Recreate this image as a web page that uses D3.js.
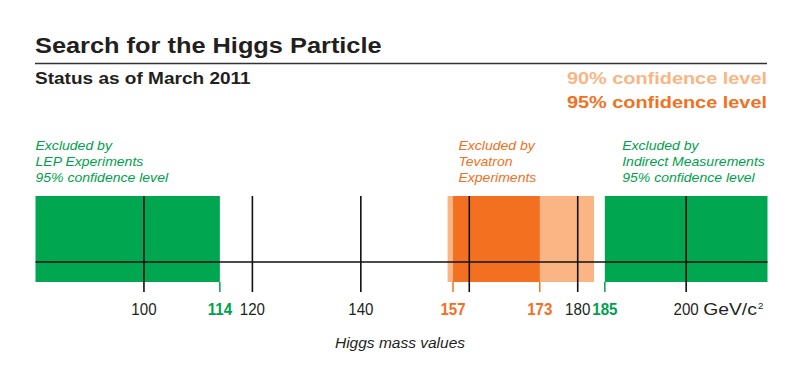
<!DOCTYPE html>
<html>
<head>
<meta charset="utf-8">
<script src="https://cdn.jsdelivr.net/npm/d3@7"></script>
<style>
  html, body { margin: 0; padding: 0; background: #fff; }
  svg { display: block; font-family: "Liberation Sans", Arial, Helvetica, sans-serif; }
</style>
</head>
<body>
<svg id="chart" width="800" height="373"></svg>
<script>
// ---- Data ----
const massDomain = [80, 215];
const gridValues = [100, 120, 140, 160, 180, 200];
const blackLabels = [100, 120, 140, 180, 200];
const unitValue = 200;
const unitText = "GeV/c";
const bandNames = ["LEP", "Tevatron90", "Tevatron95", "Indirect"];
const bandStart = [80, 156, 157, 185];
const bandEnd = [114, 183, 173, 215];
const boundaryValues = [114, 157, 173, 185];
const boundaryKinds = ["green", "orange", "orange", "green"];
const annotationX = [80, 158, 188.2];
const annotationLines = [
  ["Excluded by", "LEP Experiments", "95% confidence level"],
  ["Excluded by", "Tevatron", "Experiments"],
  ["Excluded by", "Indirect Measurements", "95% confidence level"]
];
const annotationKinds = ["green", "orange", "green"];
const legendLabels = ["90% confidence level", "95% confidence level"];
const titleText = "Search for the Higgs Particle";
const subtitleText = "Status as of March 2011";
const axisTitle = "Higgs mass values";

// ---- Styles ----
const colors = {
  green: "#00a650",
  greenText: "#00a14b",
  orange: "#f37021",
  light: "#fbb584",
  ink: "#231f20"
};
const bandColor = { LEP: colors.green, Tevatron90: colors.light, Tevatron95: colors.orange, Indirect: colors.green };
const textColor = { green: colors.greenText, orange: colors.orange };

const svg = d3.select("#chart");
const x = d3.scaleLinear().domain(massDomain).range([35.5, 767.5]);

const barTop = 196, barBottom = 282, axisY = 262, tickBottom = 292;

// text helper: horizontally stretched text anchored at (px, py)
function stext(parent, px, py, sx, str) {
  return parent.append("text")
    .attr("transform", `translate(${px},${py}) scale(${sx},1)`)
    .text(str);
}

// Title
stext(svg, 35, 53, 1.18, titleText)
  .attr("font-size", 21.5).attr("font-weight", "bold").attr("fill", colors.ink);
svg.append("line").attr("x1", 35).attr("x2", 767).attr("y1", 63.5).attr("y2", 63.5)
  .attr("stroke", "#333").attr("stroke-width", 1.5);
stext(svg, 35, 83.5, 1.12, subtitleText)
  .attr("font-size", 17).attr("font-weight", "bold").attr("fill", colors.ink);

// Legend
legendLabels.forEach((lab, i) => {
  stext(svg, 767, 84 + i * 23.5, 1.17, lab)
    .attr("text-anchor", "end").attr("font-size", 17).attr("font-weight", "bold")
    .attr("fill", i === 0 ? colors.light : colors.orange);
});

// Bands
const bands = bandNames.map((n, i) => ({ name: n, s: bandStart[i], e: bandEnd[i] }));
svg.selectAll("rect.band").data(bands).join("rect")
  .attr("class", "band")
  .attr("x", d => x(d.s)).attr("width", d => x(d.e) - x(d.s))
  .attr("y", barTop).attr("height", barBottom - barTop)
  .attr("fill", d => bandColor[d.name]);

// Axis line
svg.append("line").attr("x1", x(massDomain[0])).attr("x2", x(massDomain[1]))
  .attr("y1", axisY).attr("y2", axisY).attr("stroke", "#111").attr("stroke-width", 1.6);

// Grid lines
svg.selectAll("line.grid").data(gridValues).join("line")
  .attr("class", "grid")
  .attr("x1", d => x(d)).attr("x2", d => x(d))
  .attr("y1", barTop).attr("y2", tickBottom)
  .attr("stroke", "#111").attr("stroke-width", 1.6);

// Boundary ticks
const boundaries = boundaryValues.map((v, i) => ({ v, k: boundaryKinds[i] }));
svg.selectAll("line.bound").data(boundaries).join("line")
  .attr("class", "bound")
  .attr("x1", d => x(d.v)).attr("x2", d => x(d.v))
  .attr("y1", barBottom).attr("y2", tickBottom)
  .attr("stroke", d => textColor[d.k]).attr("stroke-width", 1.5);

// Labels
const labelY = 315;
blackLabels.forEach(v => {
  stext(svg, x(v), labelY, 0.9, v)
    .attr("text-anchor", "middle").attr("font-size", 16.8).attr("fill", colors.ink);
});
const unit = stext(svg, x(unitValue) + 17, labelY, 1.15, "")
  .attr("font-size", 16.8).attr("fill", colors.ink);
unit.append("tspan").text(unitText);
unit.append("tspan").attr("font-size", 8.5).attr("dy", -6.5).attr("dx", 1).text("2");

boundaries.forEach(d => {
  stext(svg, x(d.v), labelY, 0.9, d.v)
    .attr("text-anchor", "middle").attr("font-size", 16.8).attr("font-weight", "bold")
    .attr("fill", textColor[d.k]);
});

// Annotations
annotationLines.forEach((lines, i) => {
  lines.forEach((l, j) => {
    stext(svg, x(annotationX[i]), 150 + j * 15.9, 1.08, l)
      .attr("font-size", 13).attr("font-style", "italic")
      .attr("fill", textColor[annotationKinds[i]]);
  });
});

// Axis title
svg.append("text").attr("x", 400).attr("y", 348).attr("text-anchor", "middle")
  .attr("font-size", 15.5).attr("font-style", "italic").attr("fill", colors.ink)
  .text(axisTitle);
</script>
</body>
</html>
